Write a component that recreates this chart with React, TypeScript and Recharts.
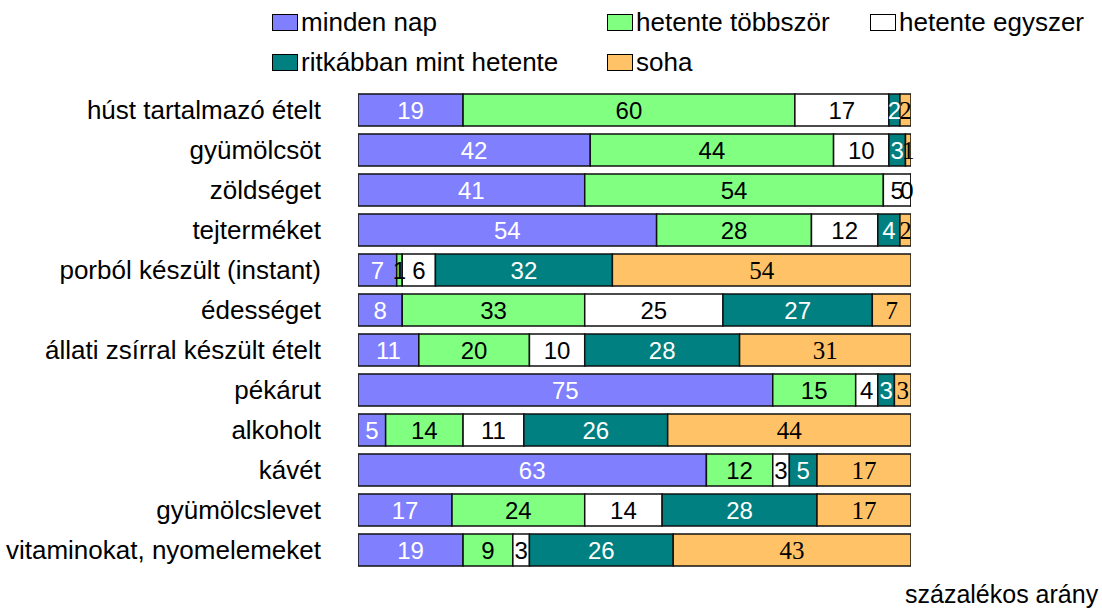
import React from 'react';
import { BarChart, Bar, XAxis, YAxis, LabelList } from 'recharts';

const categories = [
  'húst tartalmazó ételt',
  'gyümölcsöt',
  'zöldséget',
  'tejterméket',
  'porból készült (instant)',
  'édességet',
  'állati zsírral készült ételt',
  'pékárut',
  'alkoholt',
  'kávét',
  'gyümölcslevet',
  'vitaminokat, nyomelemeket',
];
const mindenNap = [19, 42, 41, 54, 7, 8, 11, 75, 5, 63, 17, 19];
const hetenteTobbszor = [60, 44, 54, 28, 1, 33, 20, 15, 14, 12, 24, 9];
const hetenteEgyszer = [17, 10, 5, 12, 6, 25, 10, 4, 11, 3, 14, 3];
const ritkabban = [2, 3, 0, 4, 32, 27, 28, 3, 26, 5, 28, 26];
const soha = [2, 1, 0, 2, 54, 7, 31, 3, 44, 17, 17, 43];

const seriesNames = ['minden nap', 'hetente többször', 'hetente egyszer', 'ritkábban mint hetente', 'soha'];
const xAxisTitle = 'százalékos arány';

const data = categories.map((name, i) => ({
  name,
  a: mindenNap[i],
  b: hetenteTobbszor[i],
  c: hetenteEgyszer[i],
  d: ritkabban[i],
  e: soha[i],
}));

const SANS = 'Liberation Sans, Arial, sans-serif';
const SERIF = 'Liberation Serif, Times New Roman, serif';

const series = [
  { key: 'a', name: seriesNames[0], fill: '#8080FF', label: '#FFFFFF', font: SANS, size: 24 },
  { key: 'b', name: seriesNames[1], fill: '#80FF80', label: '#000000', font: SANS, size: 24 },
  { key: 'c', name: seriesNames[2], fill: '#FFFFFF', label: '#000000', font: SANS, size: 24 },
  { key: 'd', name: seriesNames[3], fill: '#008080', label: '#FFFFFF', font: SANS, size: 24 },
  { key: 'e', name: seriesNames[4], fill: '#FFC266', label: '#000000', font: SERIF, size: 25 },
];

const legendPos = [
  { left: 272, top: 6 },
  { left: 607, top: 6 },
  { left: 870, top: 6 },
  { left: 272, top: 46 },
  { left: 607, top: 46 },
];

function makeLabel(color: string, font: string, size: number) {
  return (props: any) => {
    const { x, y, width, height, value } = props;
    if (value === undefined || value === null) return null;
    const cx = Number(x) + Number(width) / 2;
    const cy = Number(y) + Number(height) / 2;
    const zero = Number(value) === 0;
    return (
      <text
        x={zero ? Number(x) - 4 : cx}
        y={cy}
        textAnchor="middle"
        dominantBaseline="central"
        fill={zero ? '#000' : color}
        fontFamily={zero ? SANS : font}
        fontSize={size}
      >
        {value}
      </text>
    );
  };
}

export default function App() {
  return (
    <div
      style={{
        position: 'absolute',
        left: 0,
        top: 0,
        width: 1102,
        height: 610,
        background: '#fff',
        fontFamily: SANS,
        overflow: 'hidden',
      }}
    >
      {series.map((s, i) => (
        <div
          key={s.key}
          style={{
            position: 'absolute',
            left: legendPos[i].left,
            top: legendPos[i].top,
            height: 32,
            display: 'flex',
            alignItems: 'center',
            fontSize: 26,
            lineHeight: '32px',
            color: '#000',
            whiteSpace: 'nowrap',
          }}
        >
          <span
            style={{
              display: 'inline-block',
              width: 24,
              height: 15,
              background: s.fill,
              border: '1.5px solid #000',
              marginRight: 3,
            }}
          />
          {s.name}
        </div>
      ))}
      <BarChart
        width={1102}
        height={610}
        data={data}
        layout="vertical"
        margin={{ top: 90, right: 191, bottom: 40, left: 0 }}
        barSize={32}
      >
        <XAxis type="number" domain={[0, 100]} hide allowDataOverflow />
        <YAxis
          type="category"
          dataKey="name"
          width={358}
          tickLine={false}
          axisLine={false}
          tickSize={0}
          tickMargin={37}
          tick={{ fill: '#000', fontSize: 26 }}
          interval={0}
        />
        {series.map((s) => (
          <Bar
            key={s.key}
            dataKey={s.key}
            name={s.name}
            stackId="x"
            fill={s.fill}
            stroke="#111"
            strokeWidth={1.5}
            minPointSize={s.key === 'd' ? 1 : 0}
            isAnimationActive={false}
          >
            <LabelList dataKey={s.key} content={makeLabel(s.label, s.font, s.size)} />
          </Bar>
        ))}
      </BarChart>
      <div
        style={{
          position: 'absolute',
          left: 905,
          top: 580,
          fontSize: 25,
          lineHeight: '28px',
          color: '#000',
          whiteSpace: 'nowrap',
        }}
      >
        {xAxisTitle}
      </div>
    </div>
  );
}
